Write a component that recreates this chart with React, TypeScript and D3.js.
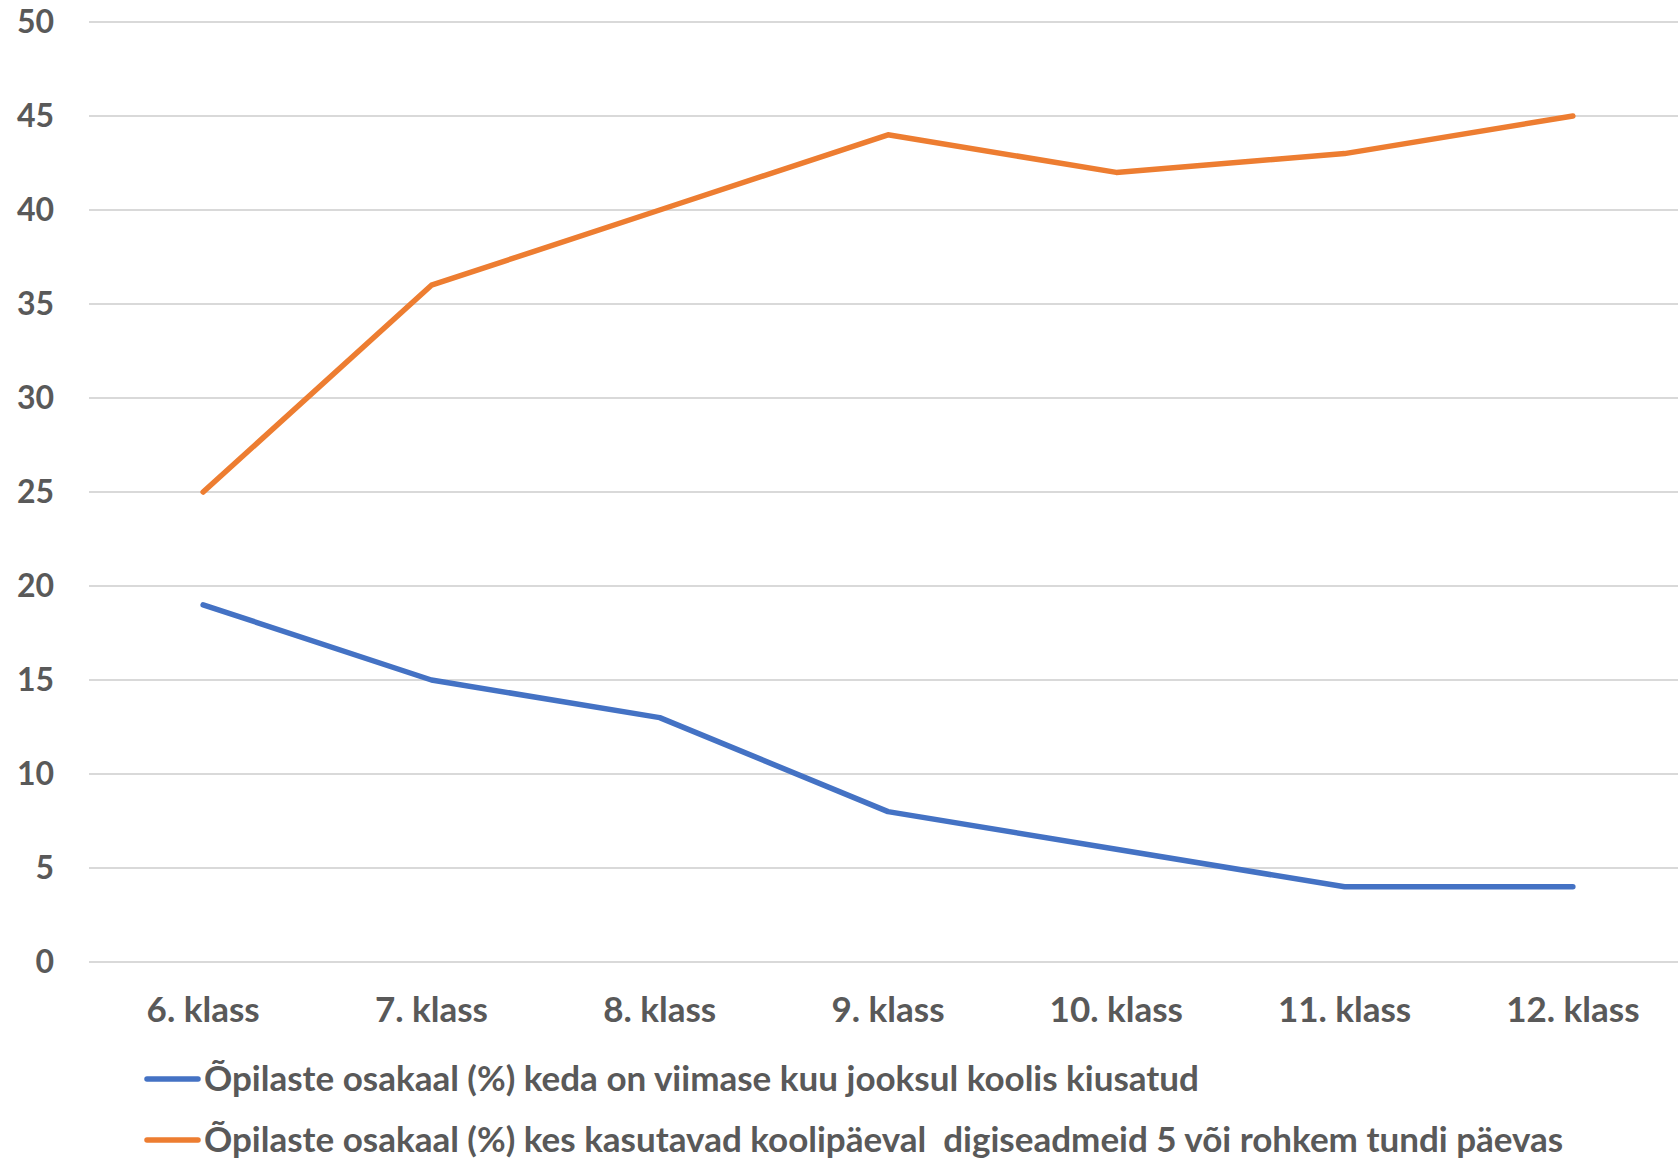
import React from "react";
import * as d3 from "d3";

const categories = ["6. klass", "7. klass", "8. klass", "9. klass", "10. klass", "11. klass", "12. klass"];
const bulliedValues = [19, 15, 13, 8, 6, 4, 4];
const deviceValues = [25, 36, 40, 44, 42, 43, 45];
const yTicks = [0, 5, 10, 15, 20, 25, 30, 35, 40, 45, 50];
const seriesNames = [
  "Õpilaste osakaal (%) keda on viimase kuu jooksul koolis kiusatud",
  "Õpilaste osakaal (%) kes kasutavad koolipäeval  digiseadmeid 5 või rohkem tundi päevas",
];
const seriesColors = ["#4472C4", "#ED7D31"];

export default function App() {
  const W = 1678;
  const H = 1158;
  const x = d3.scaleBand<string>().domain(categories).range([89, 1687]);
  const y = d3.scaleLinear().domain([0, 50]).range([962, 22]);
  const line = d3
    .line<number>()
    .x((_, i) => (x(categories[i]) as number) + x.bandwidth() / 2)
    .y((d) => y(d));
  const font = "Lato, 'Open Sans', sans-serif";
  const txt = "#595959";
  const series = [bulliedValues, deviceValues];
  return (
    <svg
      width={W}
      height={H}
      style={{ position: "absolute", left: 0, top: 0, background: "#fff" }}
      fontFamily={font}
      fontWeight="bold"
    >
      {yTicks.map((t) => (
        <g key={t}>
          <line x1={89} x2={W} y1={y(t)} y2={y(t)} stroke="#d9d9d9" strokeWidth={2} />
          <text x={54} y={y(t) + 11} textAnchor="end" fontSize={32} fill={txt}>
            {t}
          </text>
        </g>
      ))}
      {categories.map((c) => (
        <text
          key={c}
          x={(x(c) as number) + x.bandwidth() / 2}
          y={1022}
          textAnchor="middle"
          fontSize={35}
          fill={txt}
        >
          {c}
        </text>
      ))}
      {series.map((s, i) => (
        <path
          key={i}
          d={line(s) as string}
          fill="none"
          stroke={seriesColors[i]}
          strokeWidth={5.5}
          strokeLinejoin="round"
          strokeLinecap="round"
        />
      ))}
      {seriesNames.map((n, i) => (
        <g key={n} transform={`translate(0, ${1079 + i * 61})`}>
          <line x1={147} x2={198} y1={0} y2={0} stroke={seriesColors[i]} strokeWidth={5.5} strokeLinecap="round" />
          <text x={204} y={12} fontSize={35} fill={txt} style={{ whiteSpace: "pre" }}>
            {n}
          </text>
        </g>
      ))}
    </svg>
  );
}
